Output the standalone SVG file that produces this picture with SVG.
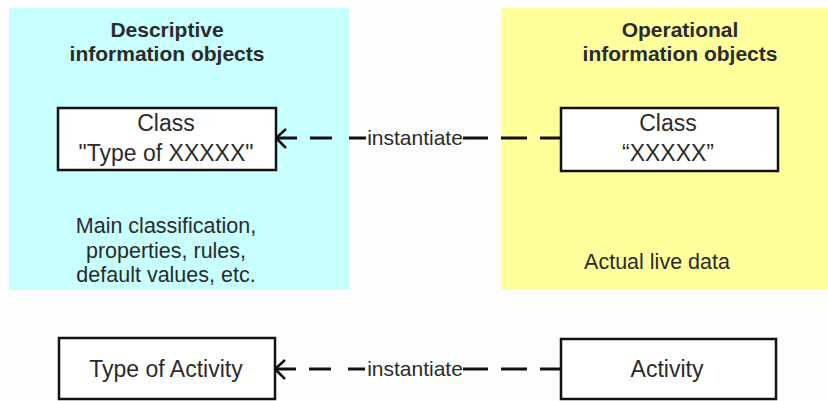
<svg xmlns="http://www.w3.org/2000/svg" width="828" height="401" viewBox="0 0 828 401">
  <style>
    text { font-family: "Liberation Sans", Arial, sans-serif; fill: #2b2b2b; }
    .hdr { font-size: 21px; font-weight: bold; text-anchor: middle; }
    .lbl { font-size: 23px; text-anchor: middle; }
    .note { font-size: 21.5px; text-anchor: middle; }
    .edge-lbl { font-size: 21px; text-anchor: middle; }
    .box { fill: #ffffff; stroke: #111111; stroke-width: 2.5; }
    .conn { fill: none; stroke: #111111; stroke-width: 3; }
    .head { fill: none; stroke: #111111; stroke-width: 2.5; }
  </style>

  <rect x="0" y="0" width="828" height="401" fill="#fdfdfd"/>

  <!-- descriptive panel -->
  <g id="panel-descriptive">
    <rect x="9" y="8" width="340" height="282" fill="#c8ffff"/>
    <text class="hdr" x="167" y="37">Descriptive</text>
    <text class="hdr" x="167" y="61">information objects</text>
    <text class="note" x="166" y="233">Main classification,</text>
    <text class="note" x="166" y="257.5">properties, rules,</text>
    <text class="note" x="166" y="282">default values, etc.</text>
  </g>

  <!-- operational panel -->
  <g id="panel-operational">
    <rect x="501" y="8" width="327" height="282" fill="#ffff9c"/>
    <text class="hdr" x="680" y="37">Operational</text>
    <text class="hdr" x="680" y="61">information objects</text>
    <text class="note" x="657" y="269">Actual live data</text>
  </g>

  <!-- connectors -->
  <g id="connectors">
    <path class="conn" d="M276,138 H366" stroke-dasharray="21 13 22 17 17"/>
    <path class="conn" d="M463,138 H561" stroke-dasharray="25 13 26 13 22"/>
    <polyline class="head" points="286,129 276,138 286,148"/>
    <text class="edge-lbl" x="415" y="145">instantiate</text>

    <path class="conn" d="M275,369 H366" stroke-dasharray="21 13 22 17 17"/>
    <path class="conn" d="M463,369 H561" stroke-dasharray="25 13 26 13 22"/>
    <polyline class="head" points="285,360 275,369 285,379"/>
    <text class="edge-lbl" x="415" y="376">instantiate</text>
  </g>

  <g id="class-type">
    <rect class="box" x="58" y="108" width="218" height="62"/>
    <text class="lbl" x="166" y="131">Class</text>
    <text class="lbl" x="166" y="161">"Type of XXXXX"</text>
  </g>

  <g id="class-instance">
    <rect class="box" x="561" y="108" width="217" height="63"/>
    <text class="lbl" x="668" y="131">Class</text>
    <text class="lbl" x="668" y="161">“XXXXX”</text>
  </g>

  <g id="type-of-activity">
    <rect class="box" x="59" y="338" width="216" height="61"/>
    <text class="lbl" x="166" y="377">Type of Activity</text>
  </g>

  <g id="activity">
    <rect class="box" x="561" y="339" width="215" height="60"/>
    <text class="lbl" x="667" y="377">Activity</text>
  </g>
</svg>
